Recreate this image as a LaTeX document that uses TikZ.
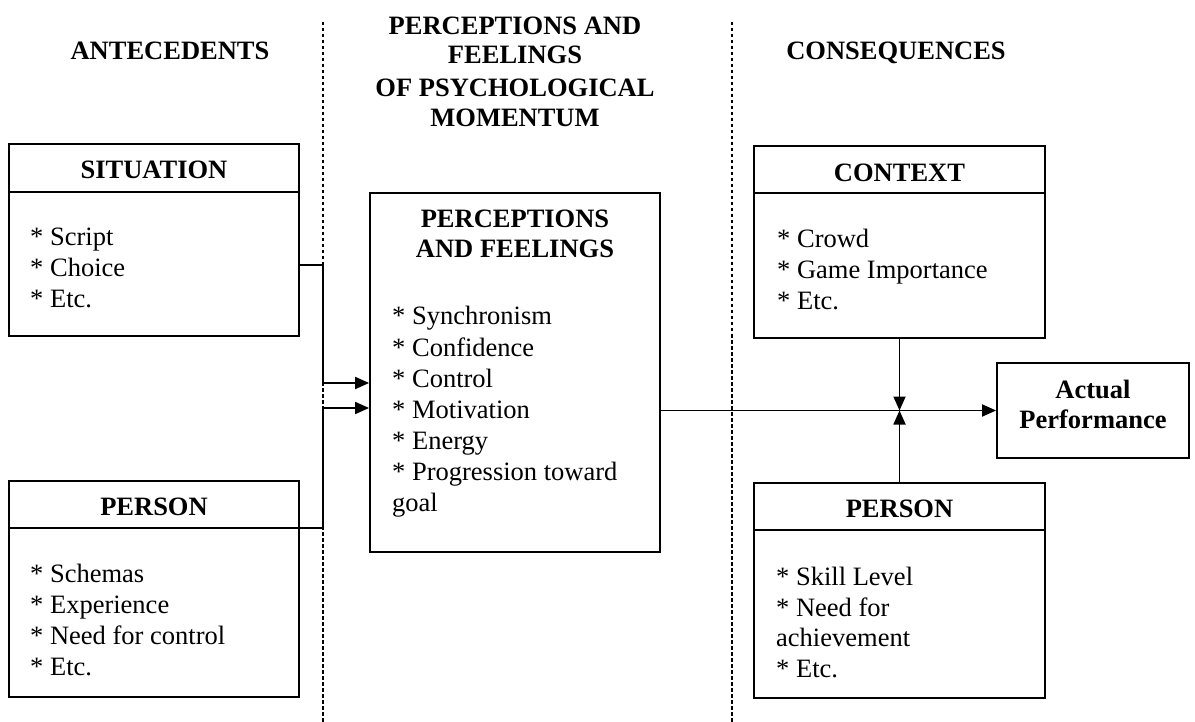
\documentclass[tikz,border=0pt]{standalone}
\usepackage{fontspec}
\setmainfont{Liberation Serif}
\usetikzlibrary{arrows.meta}
\begin{document}
\begin{tikzpicture}[x=1pt,y=-1pt,
  box/.style={draw, line width=1.8pt, inner sep=0pt},
  hdr/.style={font=\bfseries\fontsize{26.5}{31}\selectfont, anchor=base, inner sep=0pt},
  itm/.style={font=\fontsize{26.5}{31}\selectfont, anchor=base west, inner sep=0pt},
  sep/.style={line width=1.3pt, dash pattern=on 3.5pt off 2.5pt},
  conn/.style={line width=1.8pt},
  arr/.style={conn, -{Triangle[length=14pt,width=12pt]}}]
\useasboundingbox (0,0) rectangle (1195,722);

% column separators
\coordinate (d1t) at (323,22); \coordinate (d1b) at (323,722);
\coordinate (d2t) at (732,22); \coordinate (d2b) at (732,722);
\draw[sep] (d1t) -- (d1b);
\draw[sep] (d2t) -- (d2b);

% column headings
\node[hdr] (hA) at (170,60) {ANTECEDENTS};
\node[hdr] (hP1) at (515,35) {PERCEPTIONS AND};
\node[hdr] (hP2) at (515,64) {FEELINGS};
\node[hdr] (hP3) at (515,97) {OF PSYCHOLOGICAL};
\node[hdr] (hP4) at (515,127) {MOMENTUM};
\node[hdr] (hC) at (896,60) {CONSEQUENCES};

% SITUATION box
\node[box, minimum width=290pt, minimum height=192pt] (sit) at (154,240) {};
\draw[conn] (sit.west |- 0,192) -- (sit.east |- 0,192);
\node[hdr] (sitT) at (154,179) {SITUATION};
\node[itm] (s1) at (30,246) {* Script};
\node[itm] (s2) at (30,277) {* Choice};
\node[itm] (s3) at (30,308) {* Etc.};

% PERSON box (left)
\node[box, minimum width=290pt, minimum height=216pt] (pl) at (154,589) {};
\draw[conn] (pl.west |- 0,528) -- (pl.east |- 0,528);
\node[hdr] (plT) at (154,515) {PERSON};
\node[itm] (p1) at (30,582) {* Schemas};
\node[itm] (p2) at (30,613) {* Experience};
\node[itm] (p3) at (30,644) {* Need for control};
\node[itm] (p4) at (30,675) {* Etc.};

% PERCEPTIONS AND FEELINGS box
\node[box, minimum width=290pt, minimum height=359pt] (mid) at (515,372.5) {};
\node[hdr] (midT1) at (515,228) {PERCEPTIONS};
\node[hdr] (midT2) at (515,258) {AND FEELINGS};
\node[itm] (m1) at (392,325) {* Synchronism};
\node[itm] (m2) at (392,356) {* Confidence};
\node[itm] (m3) at (392,387) {* Control};
\node[itm] (m4) at (392,418) {* Motivation};
\node[itm] (m5) at (392,449) {* Energy};
\node[itm] (m6) at (392,480) {* Progression toward};
\node[itm] (m7) at (392,511) {goal};

% CONTEXT box
\node[box, minimum width=291pt, minimum height=192pt] (ctx) at (899.5,242) {};
\draw[conn] (ctx.west |- 0,193) -- (ctx.east |- 0,193);
\node[hdr] (ctxT) at (899.5,182) {CONTEXT};
\node[itm] (c1) at (777,248) {* Crowd};
\node[itm] (c2) at (777,279) {* Game Importance};
\node[itm] (c3) at (777,310) {* Etc.};

% PERSON box (right)
\node[box, minimum width=291pt, minimum height=215pt] (pr) at (899.5,590.5) {};
\draw[conn] (pr.west |- 0,530) -- (pr.east |- 0,530);
\node[hdr] (prT) at (899.5,517) {PERSON};
\node[itm] (r1) at (776,585) {* Skill Level};
\node[itm] (r2) at (776,616) {* Need for};
\node[itm] (r3) at (776,646) {achievement};
\node[itm] (r4) at (776,677) {* Etc.};

% Actual Performance
\node[box, minimum width=192pt, minimum height=95pt] (ap) at (1093,410.5) {};
\node[hdr] (apT1) at (1093,398) {Actual};
\node[hdr] (apT2) at (1093,428) {Performance};

% connectors
\coordinate (bus1) at (323,383);
\coordinate (bus2) at (323,408);
\draw[arr] ([yshift=-25pt]sit.east) -| (bus1) -- (mid.west |- bus1);
\draw[arr] ([yshift=61pt]pl.east) -| (bus2) -- (mid.west |- bus2);
\coordinate (j) at (ctx.south |- ap.west);
\draw[arr] (mid.east |- ap.west) -- (ap.west);
\draw[arr] (ctx.south) -- (j);
\draw[arr] (pr.north) -- (j);
\end{tikzpicture}
\end{document}
